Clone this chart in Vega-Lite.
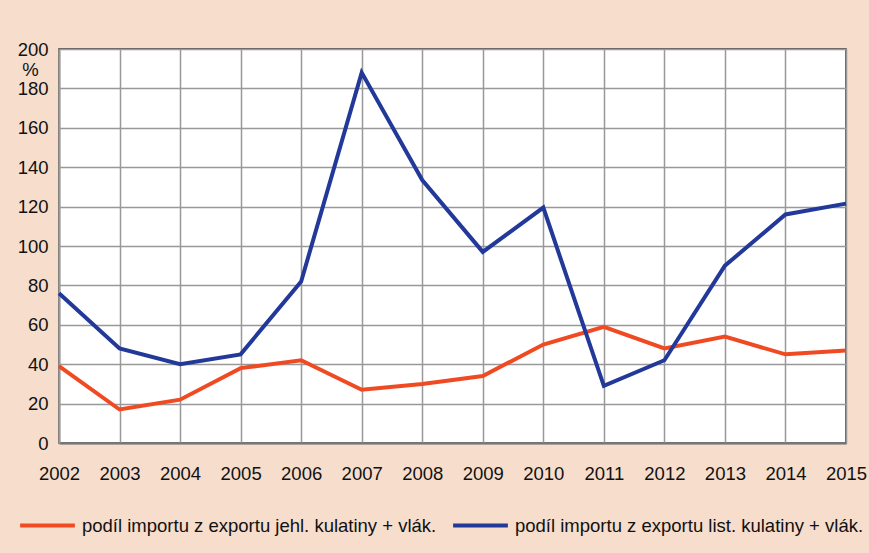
{
  "$schema": "https://vega.github.io/schema/vega-lite/v6.json",
  "width": 787,
  "height": 394,
  "autosize": {"type": "none"},
  "padding": {"left": 59, "top": 49, "right": 23, "bottom": 110},
  "background": "#f6ddcc",
  "config": {
    "font": "Liberation Sans",
    "view": {"fill": "white", "stroke": "#333", "strokeWidth": 1.5}
  },
  "data": {
    "values": [
      {"rok": 2002, "serie": "jehl", "hodnota": 39},
      {"rok": 2003, "serie": "jehl", "hodnota": 17},
      {"rok": 2004, "serie": "jehl", "hodnota": 22},
      {"rok": 2005, "serie": "jehl", "hodnota": 38},
      {"rok": 2006, "serie": "jehl", "hodnota": 42},
      {"rok": 2007, "serie": "jehl", "hodnota": 27},
      {"rok": 2008, "serie": "jehl", "hodnota": 30},
      {"rok": 2009, "serie": "jehl", "hodnota": 34},
      {"rok": 2010, "serie": "jehl", "hodnota": 50},
      {"rok": 2011, "serie": "jehl", "hodnota": 59},
      {"rok": 2012, "serie": "jehl", "hodnota": 48},
      {"rok": 2013, "serie": "jehl", "hodnota": 54},
      {"rok": 2014, "serie": "jehl", "hodnota": 45},
      {"rok": 2015, "serie": "jehl", "hodnota": 47},
      {"rok": 2002, "serie": "list", "hodnota": 76},
      {"rok": 2003, "serie": "list", "hodnota": 48},
      {"rok": 2004, "serie": "list", "hodnota": 40},
      {"rok": 2005, "serie": "list", "hodnota": 45},
      {"rok": 2006, "serie": "list", "hodnota": 82},
      {"rok": 2007, "serie": "list", "hodnota": 188},
      {"rok": 2008, "serie": "list", "hodnota": 133.5},
      {"rok": 2009, "serie": "list", "hodnota": 97},
      {"rok": 2010, "serie": "list", "hodnota": 119.5},
      {"rok": 2011, "serie": "list", "hodnota": 29},
      {"rok": 2012, "serie": "list", "hodnota": 42},
      {"rok": 2013, "serie": "list", "hodnota": 90},
      {"rok": 2014, "serie": "list", "hodnota": 116},
      {"rok": 2015, "serie": "list", "hodnota": 121.5}
    ]
  },
  "mark": {"type": "line", "strokeWidth": 4, "strokeJoin": "miter"},
  "encoding": {
    "x": {
      "field": "rok",
      "type": "quantitative",
      "scale": {"domain": [2002, 2015], "nice": false, "zero": false},
      "axis": {
        "title": null,
        "values": [2002, 2003, 2004, 2005, 2006, 2007, 2008, 2009, 2010, 2011, 2012, 2013, 2014, 2015],
        "format": "d",
        "labelFontSize": 18.5,
        "labelColor": "#111",
        "labelPadding": 21,
        "labelFlush": false,
        "labelOverlap": false,
        "ticks": false,
        "domainColor": "#777",
        "domainWidth": 2,
        "gridColor": "#999",
        "gridWidth": 1.5,
        "gridOpacity": 1
      }
    },
    "y": {
      "field": "hodnota",
      "type": "quantitative",
      "scale": {"domain": [0, 200], "nice": false},
      "axis": {
        "title": "%",
        "titleAngle": 0,
        "titleFontSize": 18.5,
        "titleFontWeight": "normal",
        "titleColor": "#111",
        "titleX": -29,
        "titleY": 20,
        "titleAlign": "center",
        "titleBaseline": "middle",
        "values": [0, 20, 40, 60, 80, 100, 120, 140, 160, 180, 200],
        "labelFontSize": 18.5,
        "labelColor": "#111",
        "labelPadding": 11,
        "ticks": false,
        "domainColor": "#999",
        "domainWidth": 2,
        "gridColor": "#999",
        "gridWidth": 1.5,
        "gridOpacity": 1
      }
    },
    "color": {
      "field": "serie",
      "type": "nominal",
      "scale": {"domain": ["jehl", "list"], "range": ["#f04a23", "#22399a"]},
      "legend": {
        "title": null,
        "orient": "none",
        "direction": "horizontal",
        "legendX": -41,
        "legendY": 447,
        "symbolType": "stroke",
        "symbolSize": 3000,
        "symbolStrokeWidth": 4,
        "labelFontSize": 18.5,
        "labelColor": "#111",
        "labelOffset": 5,
        "labelLimit": 600,
        "columnPadding": 8,
        "labelExpr": "datum.value == 'jehl' ? 'podíl importu z exportu jehl. kulatiny + vlák.' : 'podíl importu z exportu list. kulatiny + vlák.'"
      }
    }
  }
}
